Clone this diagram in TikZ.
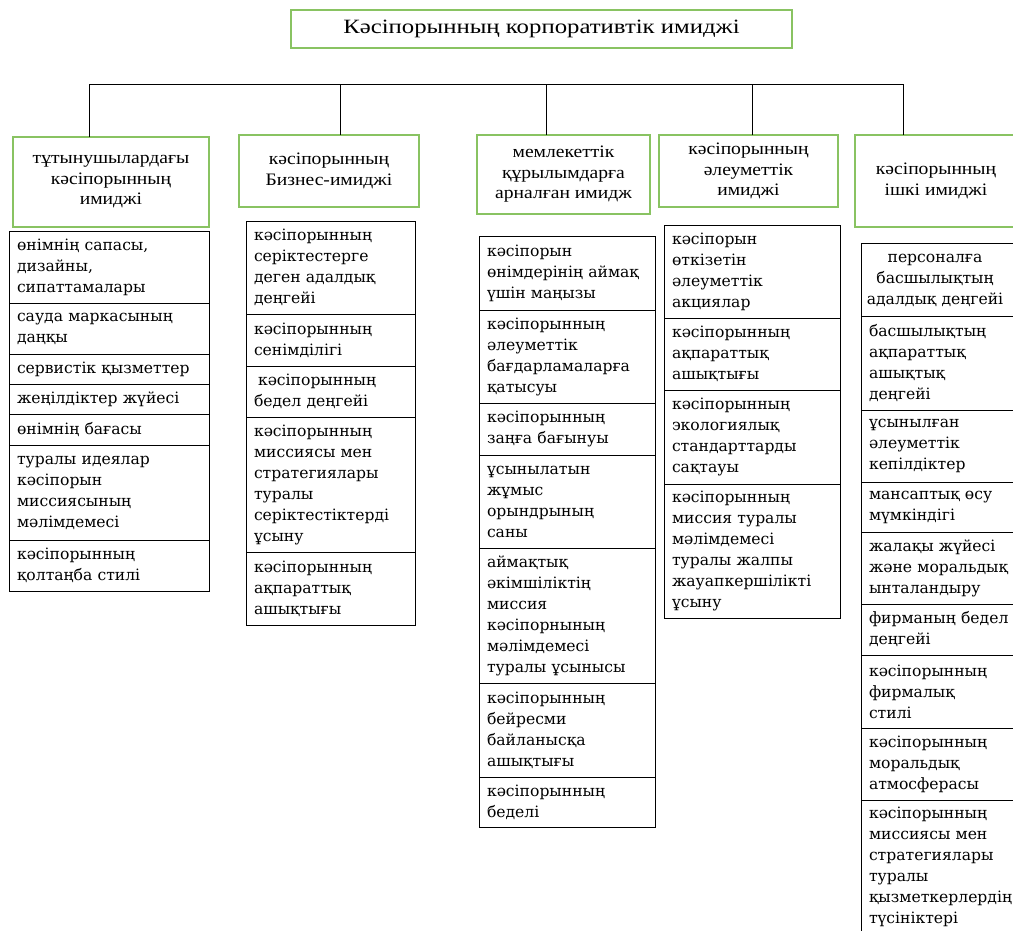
\documentclass[tikz,border=0pt]{standalone}
\usepackage{fontspec}
\setmainfont{DejaVu Serif}
\newfontfamily\hdfont[FakeStretch=1.12]{Liberation Serif}
\newfontfamily\ttlfont[FakeStretch=1.22]{Liberation Serif}
\definecolor{boxgreen}{RGB}{137,195,98}
\tikzset{
  hd/.style={draw=boxgreen, line width=1.1pt, font=\hdfont\fontsize{17.5}{20.5}\selectfont, align=center, inner sep=0pt, outer sep=0pt, anchor=north west},
  cell/.style={draw=black, line width=0.9pt, font=\fontsize{15.6}{21}\selectfont, align=left, inner xsep=8pt, inner ysep=0pt, outer sep=0pt, anchor=north west},
  link/.style={draw=black, line width=0.9pt}
}
\begin{document}
\begin{tikzpicture}[x=1pt,y=-1pt]
\useasboundingbox (0,0) rectangle (1013,930);
\clip (0,0) rectangle (1013,930);
% title
\node[hd, minimum width=501, minimum height=38, font=\ttlfont\fontsize{20.3}{22}\selectfont] (title) at (291,10) {\raisebox{-3pt}{Кәсіпорынның корпоративтік имиджі}};
% headers
\node[hd, minimum width=196, minimum height=90] (h1) at (13,137) {тұтынушылардағы\\кәсіпорынның\\имиджі};
\node[hd, minimum width=180, minimum height=72] (h2) at (239,135) {кәсіпорынның\\Бизнес-имиджі};
\node[hd, minimum width=173, minimum height=79] (h3) at (477,135) {мемлекеттік\\құрылымдарға\\арналған имидж};
\node[hd, minimum width=179, minimum height=72] (h4) at (659,135) {кәсіпорынның\\әлеуметтік\\имиджі};
\node[hd, minimum width=162, minimum height=92] (h5) at (855,135) {кәсіпорынның\\ішкі имиджі};
% bus
\coordinate (b1) at (89,84);
\coordinate (b2) at (340,84);
\coordinate (b3) at (546,84);
\coordinate (b4) at (752,84);
\coordinate (b5) at (903,84);
\draw[link] (b1) -- (b5);
\draw[link] (b1) -- (b1 |- h1.north);
\draw[link] (b2) -- (b2 |- h2.north);
\draw[link] (b3) -- (b3 |- h3.north);
\draw[link] (b4) -- (b4 |- h4.north);
\draw[link] (b5) -- (b5 |- h5.north);
% column 1
\tikzset{cw/.style={minimum width=200, text width=184}}
\node[cell, cw, minimum height=72] (a1) at (9,231) {өнімнің сапасы,\\дизайны,\\сипаттамалары};
\node[cell, cw, minimum height=51] (a2) at (a1.south west) {сауда маркасының\\даңқы};
\node[cell, cw, minimum height=30] (a3) at (a2.south west) {сервистік қызметтер};
\node[cell, cw, minimum height=30] (a4) at (a3.south west) {жеңілдіктер жүйесі};
\node[cell, cw, minimum height=31] (a5) at (a4.south west) {өнімнің бағасы};
\node[cell, cw, minimum height=95] (a6) at (a5.south west) {туралы идеялар\\кәсіпорын\\миссиясының\\мәлімдемесі};
\node[cell, cw, minimum height=51] (a7) at (a6.south west) {кәсіпорынның\\қолтаңба стилі};
% column 2
\tikzset{cw/.style={minimum width=169, text width=153}}
\node[cell, cw, minimum height=93] (c1) at (246,221) {кәсіпорынның\\серіктестерге\\деген адалдық\\деңгейі};
\node[cell, cw, minimum height=52] (c2) at (c1.south west) {кәсіпорынның\\сенімділігі};
\node[cell, cw, minimum height=51] (c3) at (c2.south west) {\hspace{4pt}кәсіпорынның\\бедел деңгейі};
\node[cell, cw, minimum height=135] (c4) at (c3.south west) {кәсіпорынның\\миссиясы мен\\стратегиялары\\туралы\\серіктестіктерді\\ұсыну};
\node[cell, cw, minimum height=73] (c5) at (c4.south west) {кәсіпорынның\\ақпараттық\\ашықтығы};
% column 3
\tikzset{cw/.style={minimum width=176, text width=160}}
\node[cell, cw, minimum height=74] (d1) at (479,236) {кәсіпорын\\өнімдерінің аймақ\\үшін маңызы};
\node[cell, cw, minimum height=93] (d2) at (d1.south west) {кәсіпорынның\\әлеуметтік\\бағдарламаларға\\қатысуы};
\node[cell, cw, minimum height=52] (d3) at (d2.south west) {кәсіпорынның\\заңға бағынуы};
\node[cell, cw, minimum height=93] (d4) at (d3.south west) {ұсынылатын\\жұмыс\\орындрының\\саны};
\node[cell, cw, minimum height=135] (d5) at (d4.south west) {аймақтық\\әкімшіліктің\\миссия\\кәсіпорнының\\мәлімдемесі\\туралы ұсынысы};
\node[cell, cw, minimum height=94] (d6) at (d5.south west) {кәсіпорынның\\бейресми\\байланысқа\\ашықтығы};
\node[cell, cw, minimum height=50] (d7) at (d6.south west) {кәсіпорынның\\беделі};
% column 4
\node[cell, cw, minimum height=93] (e1) at (664,225) {кәсіпорын\\өткізетін\\әлеуметтік\\акциялар};
\node[cell, cw, minimum height=72] (e2) at (e1.south west) {кәсіпорынның\\ақпараттық\\ашықтығы};
\node[cell, cw, minimum height=94] (e3) at (e2.south west) {кәсіпорынның\\экологиялық\\стандарттарды\\сақтауы};
\node[cell, cw, minimum height=134] (e4) at (e3.south west) {кәсіпорынның\\миссия туралы\\мәлімдемесі\\туралы жалпы\\жауапкершілікті\\ұсыну};
% column 5
\tikzset{cw/.style={minimum width=200, text width=184}}
\node[cell, cw, minimum height=73] (f1) at (861,243) {\makebox[132pt][c]{\begin{tabular}{@{}c@{}}персоналға\\басшылықтың\\адалдық деңгейі\end{tabular}}};
\node[cell, cw, minimum height=94] (f2) at (f1.south west) {басшылықтың\\ақпараттық\\ашықтық\\деңгейі};
\node[cell, cw, minimum height=72] (f3) at (f2.south west) {ұсынылған\\әлеуметтік\\кепілдіктер};
\node[cell, cw, minimum height=50] (f4) at (f3.south west) {мансаптық өсу\\мүмкіндігі};
\node[cell, cw, minimum height=72] (f5) at (f4.south west) {жалақы жүйесі\\және моральдық\\ынталандыру};
\node[cell, cw, minimum height=51] (f6) at (f5.south west) {фирманың бедел\\деңгейі};
\node[cell, cw, minimum height=73] (f7) at (f6.south west) {кәсіпорынның\\фирмалық\\стилі};
\node[cell, cw, minimum height=72] (f8) at (f7.south west) {кәсіпорынның\\моральдық\\атмосферасы};
\node[cell, cw, minimum height=134] (f9) at (f8.south west) {кәсіпорынның\\миссиясы мен\\стратегиялары\\туралы\\қызметкерлердің\\түсініктері};
\end{tikzpicture}
\end{document}
